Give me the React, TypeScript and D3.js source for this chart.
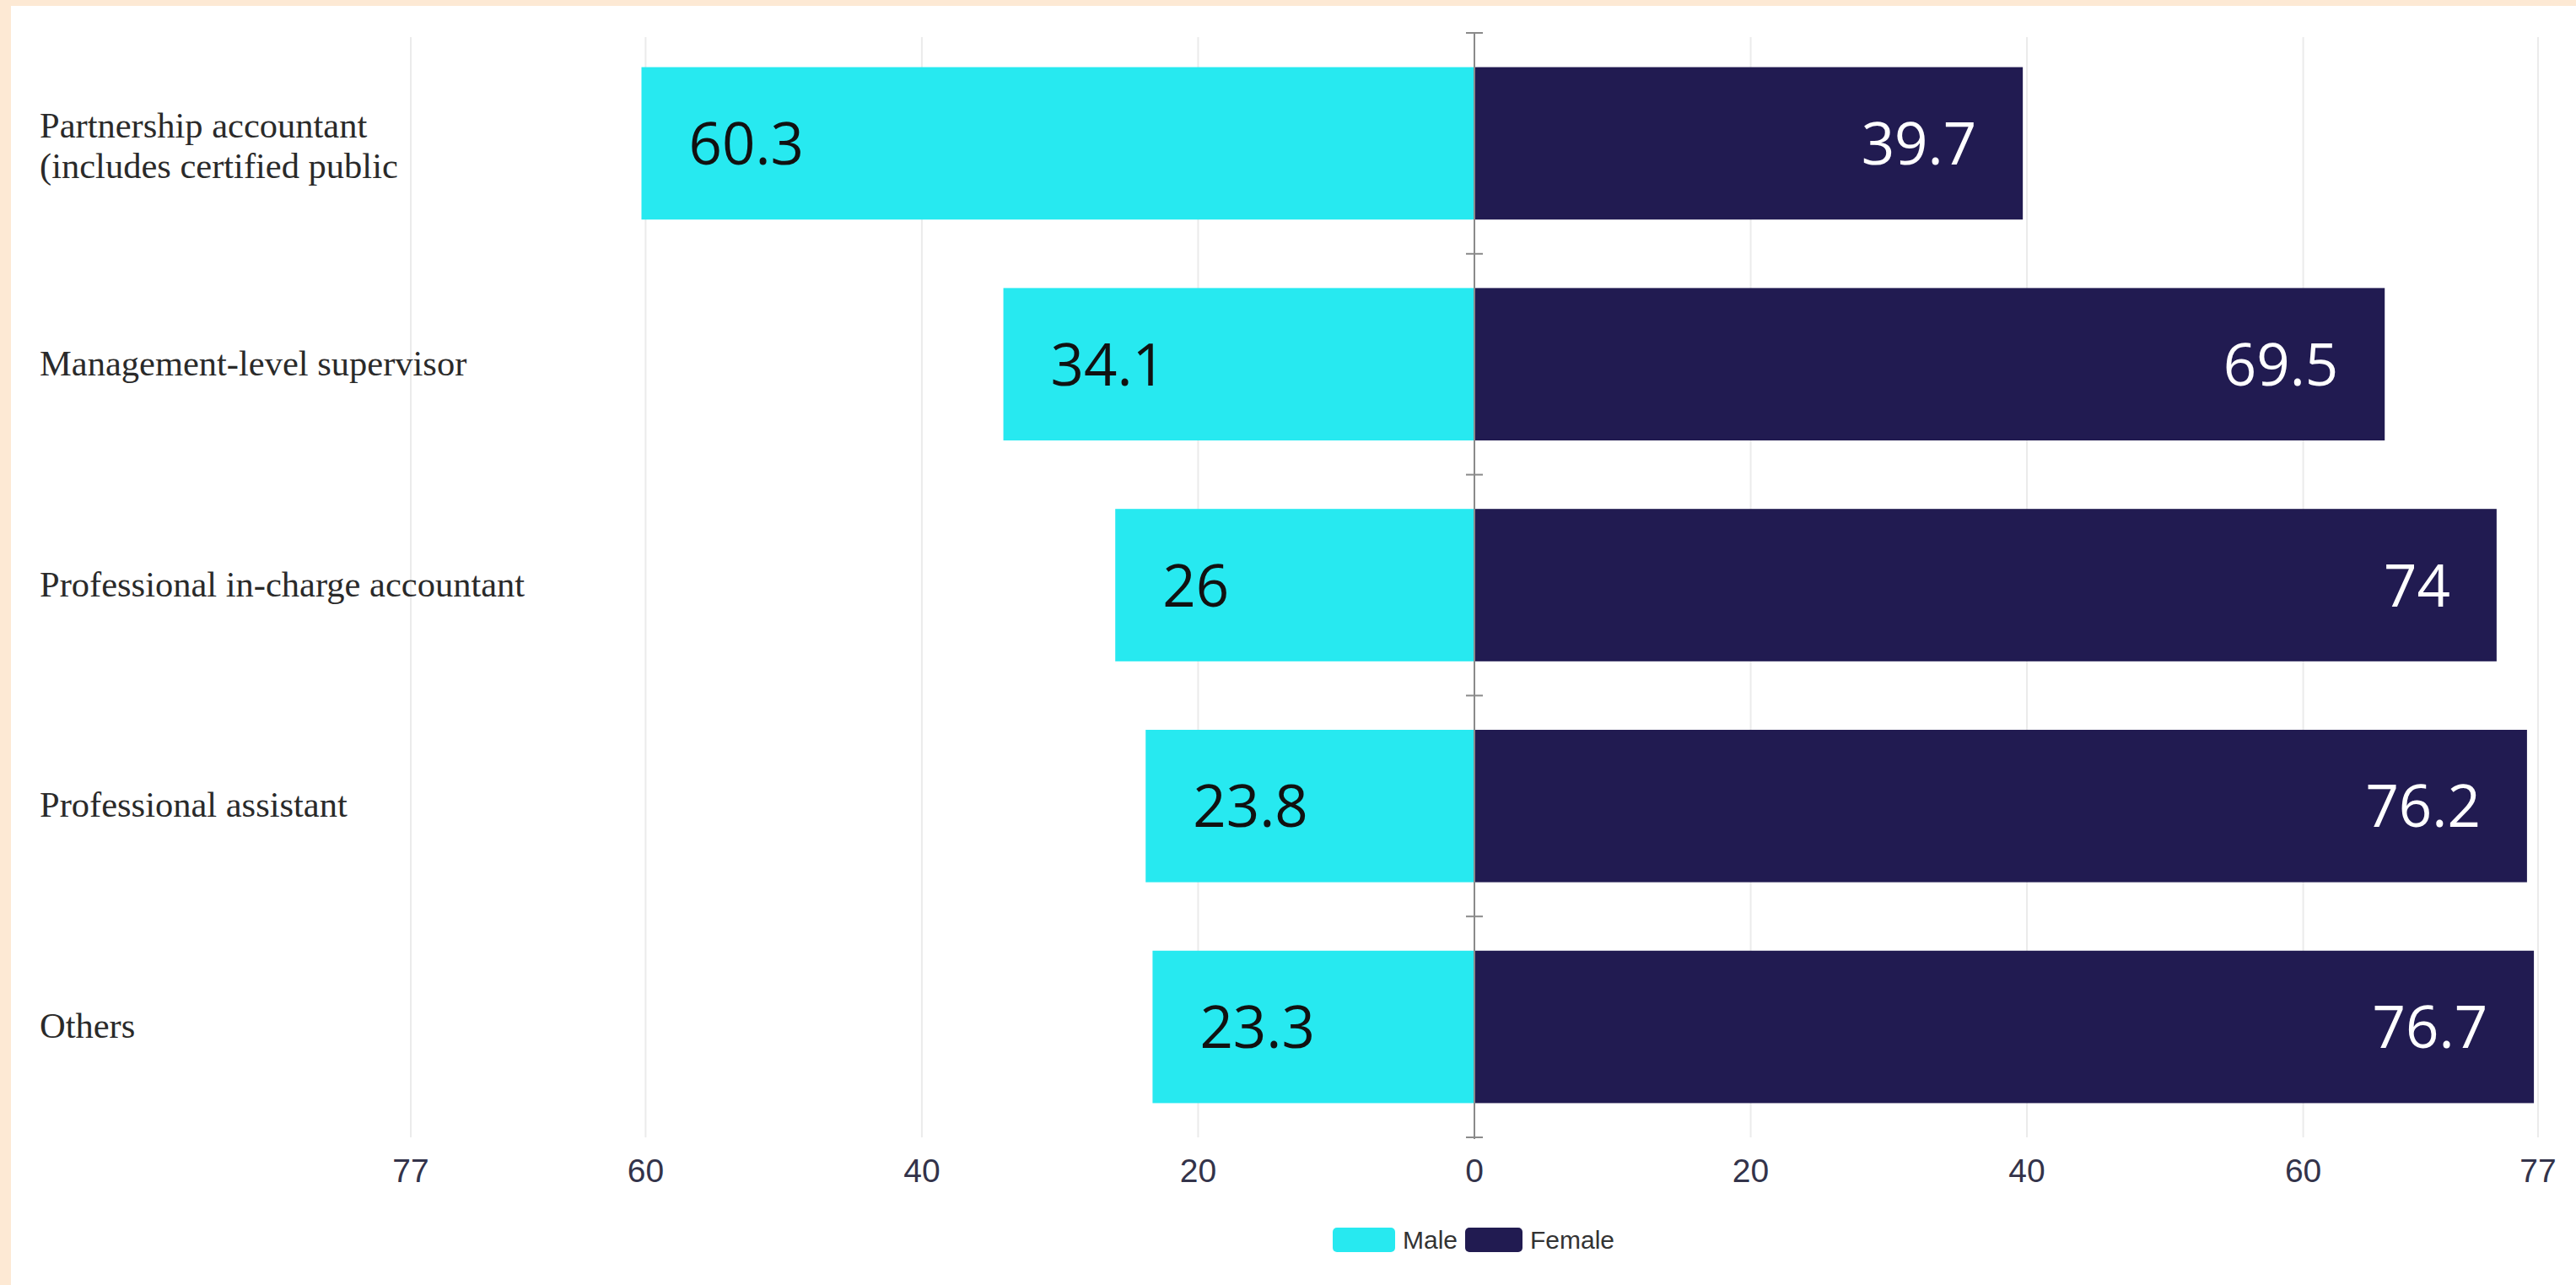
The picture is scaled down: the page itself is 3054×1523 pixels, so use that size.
import React, { useEffect } from "react";
import * as d3 from "d3";

const categoryLines: string[][] = [
  ["Partnership accountant", "(includes certified public"],
  ["Management-level supervisor"],
  ["Professional in-charge accountant"],
  ["Professional assistant"],
  ["Others"],
];
const maleValues = [60.3, 34.1, 26, 23.8, 23.3];
const maleLabels = ["60.3", "34.1", "26", "23.8", "23.3"];
const femaleValues = [39.7, 65.9, 74, 76.2, 76.7];
const femaleLabels = ["39.7", "69.5", "74", "76.2", "76.7"];
const tickValues = [-77, -60, -40, -20, 0, 20, 40, 60, 77];
const legendItems = ["Male", "Female"];

const W = 3054;
const H = 1523;
const MALE = "#27e9f0";
const FEMALE = "#211b51";

export default function App() {
  useEffect(() => {
    document.body.style.margin = "0";
  }, []);

  const x = d3.scaleLinear().domain([-77, 77]).range([487, 3009]);
  const idx = categoryLines.map((_, i) => String(i));
  const y = d3.scaleBand<string>().domain(idx).range([39, 1348]).paddingInner(0.31).paddingOuter(0.155);
  const step = y.step();
  const top = 39;
  const bottom = 1348;
  const boundaries = d3.range(categoryLines.length + 1).map((i) => top + i * step);

  const legendSw = 74;
  const legendFont = 30;
  const legendX0 = x(0) - 168;

  return (
    <svg width={W} height={H} style={{ position: "absolute", left: 0, top: 0, background: "#ffffff" }}>
      <rect x={0} y={0} width={W} height={H} fill="#ffffff" />
      <rect x={0} y={0} width={W} height={7} fill="#fde9d4" />
      <rect x={0} y={0} width={13} height={H} fill="#fde9d4" />

      {/* gridlines */}
      {tickValues.map((t) => (
        <line key={"g" + t} x1={x(t)} x2={x(t)} y1={44} y2={bottom} stroke="#ebebeb" strokeWidth={2} />
      ))}

      {/* bars */}
      {maleValues.map((v, i) => (
        <rect key={"m" + i} x={x(-v)} y={y(String(i))!} width={x(0) - x(-v)} height={y.bandwidth()} fill={MALE} />
      ))}
      {femaleValues.map((v, i) => (
        <rect key={"f" + i} x={x(0)} y={y(String(i))!} width={x(v) - x(0)} height={y.bandwidth()} fill={FEMALE} />
      ))}

      {/* value labels */}
      {maleValues.map((v, i) => (
        <text
          key={"ml" + i}
          x={x(-v) + 56}
          y={y(String(i))! + y.bandwidth() / 2 + 25}
          fontFamily="'Open Sans', 'Noto Sans', sans-serif"
          fontSize={69}
          fill="#111111"
        >
          {maleLabels[i]}
        </text>
      ))}
      {femaleValues.map((v, i) => (
        <text
          key={"fl" + i}
          x={x(v) - 55}
          y={y(String(i))! + y.bandwidth() / 2 + 25}
          textAnchor="end"
          fontFamily="'Open Sans', 'Noto Sans', sans-serif"
          fontSize={69}
          fill="#ffffff"
        >
          {femaleLabels[i]}
        </text>
      ))}

      {/* center axis */}
      <line x1={x(0)} x2={x(0)} y1={top} y2={bottom + 2} stroke="#8a8a8a" strokeWidth={2} />
      {boundaries.map((b, i) => (
        <line key={"t" + i} x1={x(0) - 10} x2={x(0) + 10} y1={b} y2={b} stroke="#8a8a8a" strokeWidth={2} />
      ))}

      {/* category labels */}
      {categoryLines.map((lines, i) => {
        const c = y(String(i))! + y.bandwidth() / 2;
        const start = lines.length > 1 ? c - 7 : c + 13;
        return (
          <text key={"c" + i} fontFamily="'Liberation Serif', 'DejaVu Serif', serif" fontSize={42.5} fill="#2a2a2a">
            {lines.map((l, j) => (
              <tspan key={j} x={47} y={start + j * 48}>
                {l}
              </tspan>
            ))}
          </text>
        );
      })}

      {/* x tick labels */}
      {tickValues.map((t) => (
        <text
          key={"x" + t}
          x={x(t)}
          y={1401}
          textAnchor="middle"
          fontFamily="'Liberation Sans', Arial, sans-serif"
          fontSize={39}
          fill="#33334a"
        >
          {Math.abs(t)}
        </text>
      ))}

      {/* legend */}
      <g>
        <rect x={legendX0} y={1455} width={legendSw} height={29} rx={5} fill={MALE} />
        <text x={legendX0 + legendSw + 9} y={1480} fontFamily="'Liberation Sans', Arial, sans-serif" fontSize={legendFont} fill="#333333">
          {legendItems[0]}
        </text>
        <rect x={legendX0 + 157} y={1455} width={legendSw - 6} height={29} rx={5} fill={FEMALE} />
        <text x={legendX0 + 157 + legendSw + 3} y={1480} fontFamily="'Liberation Sans', Arial, sans-serif" fontSize={legendFont} fill="#333333">
          {legendItems[1]}
        </text>
      </g>
    </svg>
  );
}
